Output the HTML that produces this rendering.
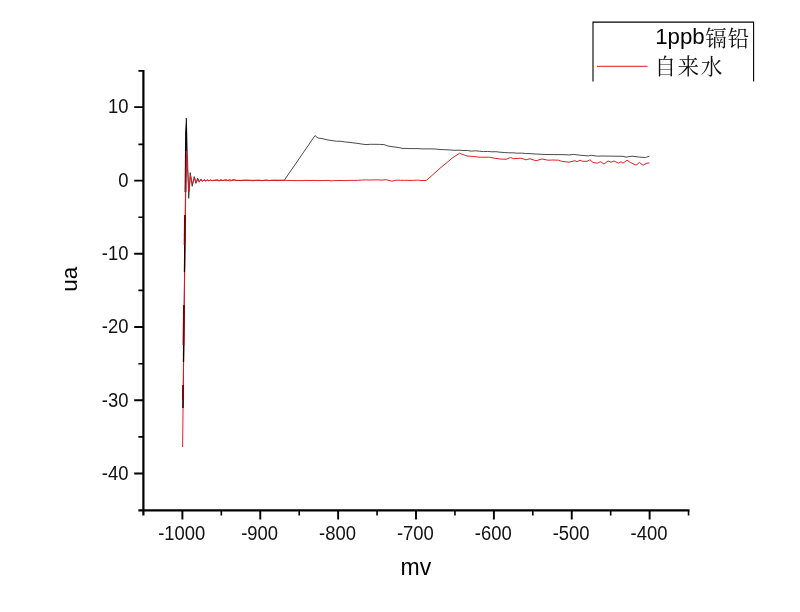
<!DOCTYPE html>
<html><head><meta charset="utf-8"><title>chart</title>
<style>html,body{margin:0;padding:0;background:#fff}body{width:800px;height:612px;overflow:hidden;font-family:"Liberation Sans",sans-serif}svg{display:block;filter:blur(0.45px)}</style>
</head><body>
<svg width="800" height="612" viewBox="0 0 800 612">
<rect width="800" height="612" fill="#fff"/>
<path d="M143.4 70.0V515.4M138.4 510.4H689.5" fill="none" stroke="#000" stroke-width="2.2"/>
<path d="M138.4 70.9H143.4M138.4 144.4H143.4M138.4 217.2H143.4M138.4 290.4H143.4M138.4 363.7H143.4M138.4 436.9H143.4M221.34 510.4V515.4M299.20 510.4V515.4M377.07 510.4V515.4M454.94 510.4V515.4M532.81 510.4V515.4M610.68 510.4V515.4M688.55 510.4V515.4" fill="none" stroke="#000" stroke-width="1.6"/>
<path d="M134.20000000000002 107.1H143.4M134.20000000000002 180.6H143.4M134.20000000000002 253.8H143.4M134.20000000000002 327.0H143.4M134.20000000000002 400.3H143.4M134.20000000000002 473.5H143.4M182.40 510.4V519.6M260.27 510.4V519.6M338.14 510.4V519.6M416.01 510.4V519.6M493.88 510.4V519.6M571.75 510.4V519.6M649.62 510.4V519.6" fill="none" stroke="#000" stroke-width="1.9"/>
<g font-family="Liberation Sans, sans-serif" font-size="19.3" fill="#111">
<text transform="translate(128.5 113.40) scale(0.955 1)" text-anchor="end">10</text>
<text transform="translate(128.5 186.90) scale(0.955 1)" text-anchor="end">0</text>
<text transform="translate(128.5 260.10) scale(0.955 1)" text-anchor="end">-10</text>
<text transform="translate(128.5 333.30) scale(0.955 1)" text-anchor="end">-20</text>
<text transform="translate(128.5 406.60) scale(0.955 1)" text-anchor="end">-30</text>
<text transform="translate(128.5 479.80) scale(0.955 1)" text-anchor="end">-40</text>
<text transform="translate(181.80 539.5) scale(0.955 1)" text-anchor="middle">-1000</text>
<text transform="translate(259.67 539.5) scale(0.955 1)" text-anchor="middle">-900</text>
<text transform="translate(337.54 539.5) scale(0.955 1)" text-anchor="middle">-800</text>
<text transform="translate(415.41 539.5) scale(0.955 1)" text-anchor="middle">-700</text>
<text transform="translate(493.28 539.5) scale(0.955 1)" text-anchor="middle">-600</text>
<text transform="translate(571.15 539.5) scale(0.955 1)" text-anchor="middle">-500</text>
<text transform="translate(649.02 539.5) scale(0.955 1)" text-anchor="middle">-400</text>
</g>
<g font-family="Liberation Sans, sans-serif" font-size="23" fill="#000">
<text x="415.9" y="575" text-anchor="middle">mv</text>
<text transform="translate(76.7 279.2) rotate(-90)" text-anchor="middle" font-size="22.4">ua</text>
</g>
<path d="M183.0 408.0 L184.8 250.0 L186.3 118.0 L188.7 198.3 L190.2 172.6 L192.2 186.3 L194.2 176.6 L195.9 183.4 L197.7 178.2 L199.2 182.2 L200.8 179.2 L202.4 181.4 L204.0 179.7 L205.6 181.0 L207.2 179.9 L208.8 180.8 L210.4 180.0 L212.2 180.7 L214.2 180.2 L214.2 180.3 L215.9 180.1 L217.6 179.8 L219.3 180.5 L221.0 179.7 L222.7 180.4 L224.4 180.2 L226.1 179.7 L227.8 180.4 L229.5 179.7 L231.2 180.3 L232.9 179.8 L234.6 179.8 L236.3 180.3 L238.0 180.4 L238.0 180.4 L241.1 180.6 L244.2 180.2 L247.2 180.2 L250.3 180.5 L253.4 180.7 L256.5 180.4 L259.6 180.3 L262.6 180.7 L265.7 180.1 L268.8 180.6 L271.9 180.3 L275.0 180.2 L278.0 180.2 L281.1 180.3 L284.2 180.4 L315.0 135.6 L318.0 138.0 L322.0 138.6 L328.0 140.0 L332.0 140.6 L332.0 140.6 L336.5 141.2 L341.0 141.3 L345.5 142.0 L350.0 142.4 L354.0 143.0 L358.0 143.4 L362.0 144.1 L366.0 144.6 L370.5 144.3 L375.0 144.3 L379.5 144.4 L384.0 144.6 L388.0 146.0 L392.0 146.7 L396.0 147.2 L400.0 147.8 L402.0 148.4 L406.0 148.4 L410.0 148.6 L414.0 148.6 L418.0 148.6 L422.0 148.9 L426.0 148.9 L430.0 148.9 L435.0 149.0 L440.0 149.5 L444.8 149.7 L449.5 149.9 L454.2 150.3 L459.0 150.2 L463.1 150.5 L467.2 150.5 L471.3 151.1 L475.4 150.8 L479.5 151.2 L483.6 151.6 L487.7 151.4 L491.8 151.8 L495.9 151.7 L500.0 152.2 L504.3 152.5 L508.6 152.8 L512.9 152.8 L517.1 153.2 L521.4 153.1 L525.7 153.5 L530.0 153.6 L535.0 154.0 L540.0 154.2 L545.0 154.5 L566.0 154.7 L569.0 155.0 L573.5 154.4 L581.0 155.3 L588.5 155.9 L591.5 155.3 L597.5 156.2 L602.0 156.0 L623.0 156.3 L626.0 157.1 L632.0 156.2 L639.5 157.1 L645.5 157.5 L649.4 156.2" fill="none" stroke="#2a2a2a" stroke-width="0.85" stroke-linejoin="round"/>
<path d="M186.4 117 L187.0 132 L186.3 192 L184.6 192 L185.2 132 Z" fill="#000"/>
<path d="M182.6 447.0 L184.9 250.0 L186.3 151.0 L189.0 191.5 L190.5 175.6 L192.5 184.1 L194.5 178.0 L196.2 182.3 L198.0 179.0 L199.5 181.5 L201.1 179.7 L202.7 181.0 L204.3 180.0 L205.9 180.8 L207.5 180.1 L209.1 180.6 L210.7 180.2 L212.5 180.6 L214.5 180.3 L214.5 180.4 L216.2 180.4 L217.9 180.7 L219.5 180.8 L221.2 180.4 L222.9 180.6 L224.6 180.0 L226.2 180.6 L227.9 180.5 L229.6 180.9 L231.3 180.7 L233.0 180.2 L234.6 180.3 L236.3 180.6 L238.0 180.4 L238.0 180.4 L242.0 180.3 L246.0 180.4 L250.0 180.3 L254.0 180.3 L258.0 180.3 L262.0 180.5 L266.0 180.3 L270.0 180.4 L274.0 180.4 L278.0 180.6 L282.0 180.3 L286.0 180.4 L290.0 180.5 L294.0 180.6 L298.0 180.6 L302.0 180.6 L306.0 180.4 L310.0 180.5 L314.0 180.4 L318.0 180.6 L322.0 180.6 L326.0 180.4 L330.0 180.5 L330.0 180.9 L335.0 180.6 L340.0 180.5 L345.0 180.6 L349.1 180.4 L353.2 180.4 L357.3 180.4 L361.4 180.1 L365.5 179.9 L369.6 180.0 L373.7 179.9 L377.8 179.9 L381.9 180.1 L386.0 179.7 L392.0 181.2 L396.0 180.2 L400.3 180.3 L404.7 180.3 L409.0 180.4 L413.3 180.4 L417.6 180.1 L422.0 180.6 L426.3 180.4 L433.0 174.6 L440.0 168.2 L447.0 162.5 L452.0 158.2 L459.5 153.3 L467.0 156.0 L473.0 156.4 L479.0 157.2 L489.5 157.2 L495.0 158.3 L500.0 159.0 L506.0 159.3 L510.5 157.5 L513.5 158.7 L521.0 158.2 L526.0 159.8 L530.0 158.7 L536.0 160.8 L542.0 159.0 L548.0 160.2 L553.0 160.0 L558.5 160.2 L561.5 161.3 L569.0 162.2 L575.0 160.7 L577.0 161.7 L580.0 160.2 L582.5 161.3 L587.0 161.3 L590.0 159.8 L593.0 162.5 L597.5 163.2 L600.5 161.7 L604.0 164.0 L608.0 161.0 L611.0 162.2 L614.0 161.0 L618.5 163.2 L621.0 161.7 L623.0 163.2 L627.0 160.2 L630.5 162.5 L636.0 165.2 L639.5 162.5 L643.0 165.2 L647.0 163.2 L649.4 163.0" fill="none" stroke="#e0141c" stroke-width="0.95" stroke-linejoin="round"/>
<path d="M185.01 215L184.67 245" stroke="#7a0008" stroke-width="1.9"/>
<path d="M184.00 305L183.55 345" stroke="#7a0008" stroke-width="1.9"/>
<path d="M183.10 385L182.93 400" stroke="#7a0008" stroke-width="1.9"/>
<path d="M184.77 245L184.47 272" stroke="#1a0000" stroke-width="1.3"/>
<path d="M183.65 345L183.46 362" stroke="#1a0000" stroke-width="1.3"/>
<path d="M183.03 400L182.94 408" stroke="#1a0000" stroke-width="1.3"/>
<path d="M593 81.5V22.1H753.6V81.5" fill="none" stroke="#000" stroke-width="1.1"/>
<path d="M597 66.3H647.5" stroke="#e2454a" stroke-width="1.3"/>
<text transform="translate(655.2 44.1) scale(1.03 1)" font-family="Liberation Sans, sans-serif" font-size="21.6" fill="#000">1ppb</text>
<text x="705.3" y="45.5" font-family="Liberation Serif, Noto Serif CJK SC, serif" font-size="21.6" fill="#111" textLength="44" lengthAdjust="spacing">镉铅</text>
<text x="654.4" y="73.6" font-family="Liberation Serif, Noto Serif CJK SC, serif" font-size="21.6" fill="#111" textLength="68" lengthAdjust="spacing">自来水</text>
</svg>
</body></html>
